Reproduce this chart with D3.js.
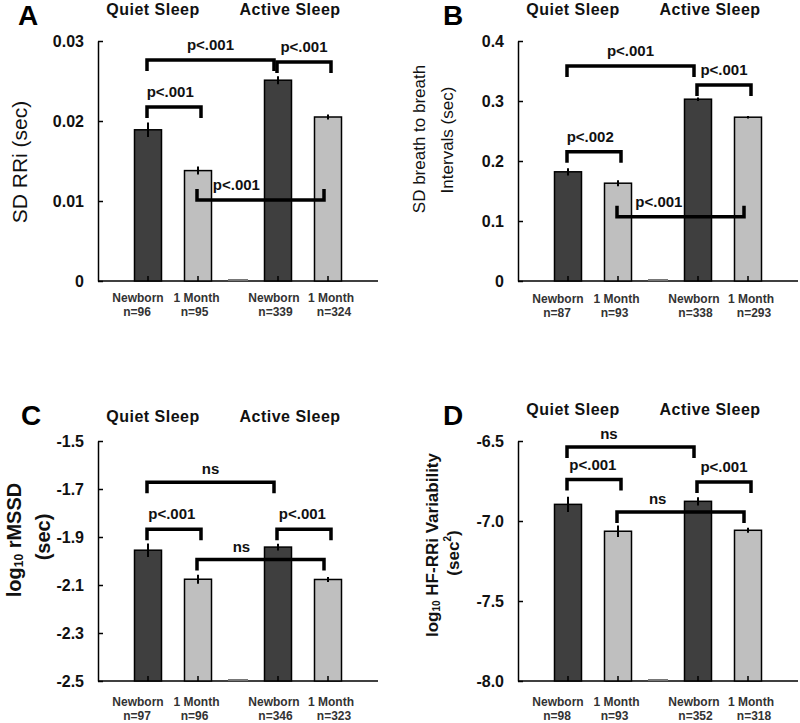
<!DOCTYPE html>
<html><head><meta charset="utf-8">
<script src="https://cdn.jsdelivr.net/npm/d3@7"></script>
<style>
body{margin:0;background:#fff}
svg{display:block}
text{font-family:"Liberation Sans",Arial,Helvetica,sans-serif}
</style>
</head><body>
<svg id="chart" width="800" height="723"></svg>
<script>
// ---------- data ----------
const states = ["Quiet Sleep", "Active Sleep"];
const ages = ["Newborn", "1 Month"];
// order of groups: QS-Newborn, QS-1 Month, AS-Newborn, AS-1 Month

// Panel A: SD RRi (sec)
const meanA = [0.0189, 0.0138, 0.0251, 0.0205];
const seA   = [0.0009, 0.0005, 0.0005, 0.0003];
const nA    = [96, 95, 339, 324];
const ticksA = [0, 0.01, 0.02, 0.03];
const tickLabelsA = ["0", "0.01", "0.02", "0.03"];

// Panel B: SD breath to breath intervals (sec)
const meanB = [0.182, 0.163, 0.303, 0.273];
const seB   = [0.006, 0.005, 0.003, 0.002];
const nB    = [87, 93, 338, 293];
const ticksB = [0, 0.1, 0.2, 0.3, 0.4];
const tickLabelsB = ["0", "0.1", "0.2", "0.3", "0.4"];

// Panel C: log10 rMSSD (sec)
const meanC = [-1.955, -2.076, -1.942, -2.077];
const seC   = [0.028, 0.019, 0.014, 0.010];
const nC    = [97, 96, 346, 323];
const ticksC = [-2.5, -2.3, -2.1, -1.9, -1.7, -1.5];
const tickLabelsC = ["-2.5", "-2.3", "-2.1", "-1.9", "-1.7", "-1.5"];

// Panel D: log10 HF-RRi variability (sec^2)
const meanD = [-6.896, -7.064, -6.877, -7.058];
const seD   = [0.047, 0.036, 0.026, 0.016];
const nD    = [98, 93, 352, 318];
const ticksD = [-8.0, -7.5, -7.0, -6.5];
const tickLabelsD = ["-8.0", "-7.5", "-7.0", "-6.5"];

// significance brackets (group indices, height in data units, legs down/up, label)
const bracketsA = [
  {from: 0, to: 2, y: 0.02763, legs: "down", label: "p<.001", at: 0.5},
  {from: 2, to: 3, y: 0.02738, legs: "down", label: "p<.001", at: 0.5},
  {from: 0, to: 1, y: 0.02175, legs: "down", label: "p<.001", at: 0.43},
  {from: 1, to: 3, y: 0.01013, legs: "up",   label: "p<.001", at: 0.31}
];
const bracketsB = [
  {from: 0, to: 2, y: 0.3583, legs: "down", label: "p<.001", at: 0.5},
  {from: 2, to: 3, y: 0.3267, legs: "down", label: "p<.001", at: 0.5},
  {from: 0, to: 1, y: 0.2155, legs: "down", label: "p<.002", at: 0.43},
  {from: 1, to: 3, y: 0.1072, legs: "up",   label: "p<.001", at: 0.33}
];
const bracketsC = [
  {from: 0, to: 2, y: -1.672, legs: "down", label: "ns", at: 0.5},
  {from: 0, to: 1, y: -1.868, legs: "down", label: "p<.001", at: 0.46},
  {from: 2, to: 3, y: -1.868, legs: "down", label: "p<.001", at: 0.47},
  {from: 1, to: 3, y: -1.994, legs: "down", label: "ns", at: 0.35}
];
const bracketsD = [
  {from: 0, to: 2, y: -6.5375, legs: "down", label: "ns", at: 0.33},
  {from: 0, to: 1, y: -6.741, legs: "down", label: "p<.001", at: 0.48},
  {from: 2, to: 3, y: -6.756, legs: "down", label: "p<.001", at: 0.5},
  {from: 1, to: 3, y: -6.944, legs: "down", label: "ns", at: 0.32}
];

// ---------- layout ----------
const svg = d3.select("#chart");
const FONT = '"Liberation Sans",Arial,Helvetica,sans-serif';
const DARK = "#3f3f3f", LIGHT = "#bfbfbf";

const xState = d3.scalePoint().domain(states).range([173, 303]);
const xAge = d3.scalePoint().domain(ages).range([-25, 25]);
const groupX = i => xState(states[Math.floor(i / 2)]) + xAge(ages[i % 2]);
const BAR_W = 27;
const nameDx = [-10, -1.5, -4, 3];
const nDx = [-11, -3.5, -2.5, 6];

function drawPanel(p) {
  const g = svg.append("g").attr("transform", `translate(${p.ox},${p.oy})`);
  const y = d3.scaleLinear().domain([p.ticks[0], p.ticks[p.ticks.length - 1]]).range([281, 41]);
  const base = y(p.ticks[0]);

  // panel letter
  g.append("text").attr("x", p.letterX).attr("y", 25)
    .attr("font-size", 28).attr("font-weight", "bold").text(p.letter);

  // sleep-state headers
  g.selectAll("text.hdr").data(states).join("text").attr("class", "hdr")
    .attr("x", (d, i) => [153, 290][i]).attr("y", 15 + p.hdrDy)
    .attr("text-anchor", "middle").attr("font-size", 16).attr("font-weight", "bold")
    .attr("letter-spacing", 0.5).attr("fill", "#111").text(d => d);

  // y axis
  const yAxis = d3.axisLeft(y).tickValues(p.ticks)
    .tickFormat((d, i) => p.tickLabels[i]).tickSizeInner(-5).tickSizeOuter(0).tickPadding(14);
  const ga = g.append("g").attr("transform", "translate(98,0)").call(yAxis);
  ga.select(".domain").attr("stroke", "#000").attr("stroke-width", 1.5);
  ga.selectAll(".tick line").attr("stroke", "#000").attr("stroke-width", 1.5);
  ga.selectAll(".tick text").attr("font-family", FONT).attr("font-size", 16)
    .attr("font-weight", "bold").attr("fill", "#111");

  // x axis baseline
  g.append("line").attr("x1", 98).attr("x2", 378).attr("y1", base).attr("y2", base)
    .attr("stroke", "#000").attr("stroke-width", 1.5);
  // empty spacer bar between states
  const mid = (groupX(1) + groupX(2)) / 2;
  g.append("line").attr("x1", mid - 10).attr("x2", mid + 10).attr("y1", base - 1).attr("y2", base - 1)
    .attr("stroke", "#777").attr("stroke-width", 2);

  const idx = [0, 1, 2, 3];
  // bars
  g.selectAll("rect.bar").data(idx).join("rect").attr("class", "bar")
    .attr("x", i => groupX(i) - BAR_W / 2).attr("width", BAR_W)
    .attr("y", i => y(p.mean[i])).attr("height", i => base - y(p.mean[i]))
    .attr("fill", i => i % 2 === 0 ? DARK : LIGHT)
    .attr("stroke", "#000").attr("stroke-width", 1.5);
  // x ticks (inward)
  g.selectAll("line.xt").data(idx).join("line").attr("class", "xt")
    .attr("x1", i => groupX(i)).attr("x2", i => groupX(i))
    .attr("y1", base).attr("y2", base - 5).attr("stroke", "#000").attr("stroke-width", 1.5);
  // error bars
  g.selectAll("line.err").data(idx).join("line").attr("class", "err")
    .attr("x1", i => groupX(i)).attr("x2", i => groupX(i))
    .attr("y1", i => y(p.mean[i] + p.se[i])).attr("y2", i => y(p.mean[i] - p.se[i]))
    .attr("stroke", "#000").attr("stroke-width", 2);

  // x labels
  g.selectAll("text.nm").data(idx).join("text").attr("class", "nm")
    .attr("x", i => groupX(i) + nameDx[i]).attr("y", 302 + p.lblDy)
    .attr("text-anchor", "middle").attr("font-size", 12).attr("font-weight", "bold")
    .attr("fill", "#333").text(i => ages[i % 2]);
  g.selectAll("text.nn").data(idx).join("text").attr("class", "nn")
    .attr("x", i => groupX(i) + nDx[i]).attr("y", 316 + p.lblDy)
    .attr("text-anchor", "middle").attr("font-size", 12).attr("font-weight", "bold")
    .attr("fill", "#333").text(i => "n=" + p.n[i]);

  // brackets
  const LEG = 11;
  p.brackets.forEach(b => {
    const cross = Math.floor(b.from / 2) !== Math.floor(b.to / 2);
    const x1 = groupX(b.from) - 1;
    const x2 = groupX(b.to) + (cross ? -4 : 3);
    const yy = y(b.y);
    const ly = b.legs === "down" ? yy + LEG : yy - LEG;
    g.append("path").attr("d", `M${x1},${ly}V${yy}H${x2}V${ly}`)
      .attr("fill", "none").attr("stroke", "#000").attr("stroke-width", 3.5)
      .attr("stroke-linejoin", "miter");
    g.append("text").attr("x", x1 + b.at * (x2 - x1))
      .attr("y", yy - (b.label === "ns" ? 8 : 10))
      .attr("text-anchor", "middle").attr("font-size", 15).attr("font-weight", "bold")
      .attr("fill", "#111").text(b.label);
  });

  // y title
  p.title(g);
}

function rotText(g, cx, cy) {
  return g.append("text").attr("transform", `translate(${cx},${cy}) rotate(-90)`)
    .attr("text-anchor", "middle").attr("dominant-baseline", "central");
}

drawPanel({
  ox: 0, oy: 0, letter: "A", letterX: 18, hdrDy: 0, lblDy: 0,
  ticks: ticksA, tickLabels: tickLabelsA, mean: meanA, se: seA, n: nA, brackets: bracketsA,
  title: g => rotText(g, 19, 162).attr("font-size", 21).attr("fill", "#111").text("SD RRi (sec)")
});
drawPanel({
  ox: 420, oy: 0, letter: "B", letterX: 23, hdrDy: 0, lblDy: 1,
  ticks: ticksB, tickLabels: tickLabelsB, mean: meanB, se: seB, n: nB, brackets: bracketsB,
  title: g => {
    rotText(g, -1, 139).attr("font-size", 17).attr("fill", "#111").text("SD breath to breath");
    rotText(g, 27, 140).attr("font-size", 17).attr("fill", "#111").text("Intervals (sec)");
  }
});
drawPanel({
  ox: 0, oy: 400, letter: "C", letterX: 21, hdrDy: 7, lblDy: 4,
  ticks: ticksC, tickLabels: tickLabelsC, mean: meanC, se: seC, n: nC, brackets: bracketsC,
  title: g => {
    const t = rotText(g, 14, 140).attr("font-size", 20).attr("font-weight", "bold").attr("fill", "#111");
    t.append("tspan").text("log");
    t.append("tspan").attr("font-size", 12).attr("dy", 5).text("10");
    t.append("tspan").attr("dy", -5).text(" rMSSD");
    rotText(g, 43, 137).attr("font-size", 20).attr("font-weight", "bold").attr("fill", "#111").text("(sec)");
  }
});
drawPanel({
  ox: 420, oy: 400, letter: "D", letterX: 23, hdrDy: 0, lblDy: 4,
  ticks: ticksD, tickLabels: tickLabelsD, mean: meanD, se: seD, n: nD, brackets: bracketsD,
  title: g => {
    const t = rotText(g, 12, 145).attr("font-size", 17).attr("font-weight", "bold").attr("fill", "#111");
    t.append("tspan").text("log");
    t.append("tspan").attr("font-size", 10).attr("dy", 4).text("10");
    t.append("tspan").attr("dy", -4).text(" HF-RRi Variability");
    const t2 = rotText(g, 33, 153).attr("font-size", 17).attr("font-weight", "bold").attr("fill", "#111");
    t2.append("tspan").text("(sec");
    t2.append("tspan").attr("font-size", 10).attr("dy", -6).text("2");
    t2.append("tspan").attr("dy", 6).text(")");
  }
});
</script>
</body></html>
